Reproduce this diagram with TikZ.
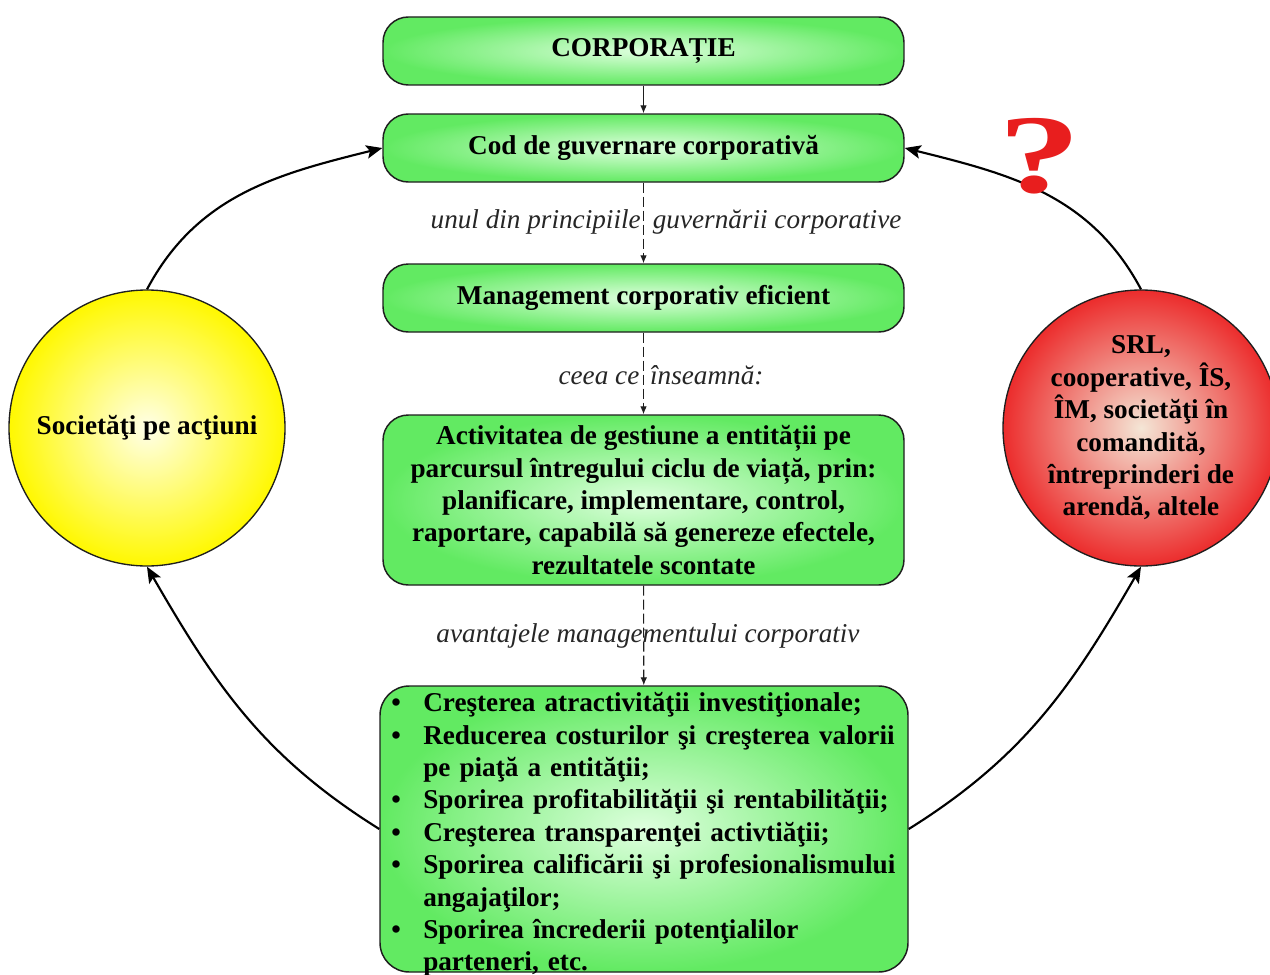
\documentclass[tikz,border=0pt]{standalone}
\usepackage{fontspec}
\setmainfont{Liberation Serif}
\usetikzlibrary{arrows.meta,shapes.geometric}
\definecolor{gOut}{RGB}{98,234,98}
\definecolor{gIn}{RGB}{222,255,222}
\definecolor{yOut}{RGB}{255,248,0}
\definecolor{yIn}{RGB}{255,255,232}
\definecolor{rOut}{RGB}{236,44,44}
\definecolor{rIn}{RGB}{244,230,214}
\definecolor{qRed}{RGB}{232,30,30}
\definecolor{edge}{RGB}{30,30,30}
\newcommand\bigbf{\bfseries\fontsize{20.4}{24.3}\selectfont}
\newcommand\lblit{\itshape\fontsize{20.4}{24}\selectfont}
\newcommand\itm[1]{\par\noindent\hangindent=24pt\hangafter=1\makebox[24pt][l]{\textbullet}#1\par}
\tikzset{
  box/.style={draw=edge, line width=1.1pt, rounded corners=19pt, inner color=gIn, outer color=gOut,
    minimum width=390.75pt, font=\bigbf, align=center, inner sep=0pt},
  thinarr/.style={draw=edge, line width=0.8pt, -{Latex[length=6pt,width=5pt]}},
  dasharr/.style={draw=edge, line width=0.8pt, dash pattern=on 7.5pt off 3pt, -{Latex[length=6pt,width=5pt]}},
  bigarr/.style={draw=black, line width=1.6pt, -{Stealth[length=12pt,width=10pt,inset=2.5pt]}},
  lbl/.style={font=\lblit, text=black!85, inner sep=0pt},
  circ/.style={circle, draw=edge, line width=1pt, minimum size=207pt, inner sep=0pt, font=\bigbf, align=center}
}
\begin{document}
\begin{tikzpicture}[x=0.75pt,y=0.75pt]
\useasboundingbox (0,0) rectangle (1270,-974);
\fill[white] (0,0) rectangle (1270,-974);

\node[box, minimum height=51pt] (b1) at (643.5,-51) {CORPORAȚIE};
\node[box, minimum height=51pt] (b2) at (643.5,-148) {Cod de guvernare corporativă};
\node[box, minimum height=51pt] (b3) at (643.5,-298) {Management corporativ eficient};
\node[box, minimum height=127.5pt] (b4) at (643.5,-500) {Activitatea de gestiune a entității pe\\ parcursul întregului ciclu de viață, prin:\\ planificare, implementare, control,\\ raportare, capabilă să genereze efectele,\\ rezultatele scontate};
\node[box, minimum width=396pt, minimum height=214.5pt, rounded corners=22pt] (b5) at (644,-829) {};
\node[anchor=north west, inner sep=0pt, text width=398pt, align=left, font=\bigbf] (b5t) at (391,-679) {%
\itm{Creşterea atractivităţii investiţionale;}
\itm{Reducerea costurilor şi creşterea valorii\newline pe piaţă a entităţii;}
\itm{Sporirea profitabilităţii şi rentabilităţii;}
\itm{Creşterea transparenţei activtiăţii;}
\itm{Sporirea calificării şi profesionalismului\newline angajaţilor;}
\itm{Sporirea încrederii potenţialilor\newline parteneri, etc.}};

\node[circ, inner color=yIn, outer color=yOut] (yc) at (147,-428) {Societăţi pe acţiuni};
\node[circ, inner color=rIn, outer color=rOut] (rc) at (1141,-428) {SRL,\\ cooperative, ÎS,\\ ÎM, societăţi în\\ comandită,\\ întreprinderi de\\ arendă, altele};

\node[lbl] (l1) at (666,-222) {unul din principiile\hspace{4pt} guvernării corporative};
\node[lbl] (l2) at (661,-375) {ceea ce\hspace{3pt} înseamnă:};
\node[lbl] (l3) at (648,-636) {avantajele managementului corporativ};

\draw[thinarr] (b1) -- (b2);
\draw[dasharr] (b2) -- (b3);
\draw[dasharr] (b3) -- (b4);
\draw[dasharr] (b4) -- (b5);

\draw[bigarr] (yc.north) to[out=62, in=194] (b2.west);
\draw[bigarr] (b5.west) to[out=148, in=-60] (yc.south);
\draw[bigarr] (b5.east) to[out=32, in=-120] (rc.south);
\draw[bigarr] (rc.north) to[out=118, in=-14] (b2.east);

\node[text=qRed, font=\bfseries\fontsize{80}{80}\selectfont, inner sep=0pt] (q) at (1040,-156) {\scalebox{1.55}[1.05]{?}};
\end{tikzpicture}
\end{document}
